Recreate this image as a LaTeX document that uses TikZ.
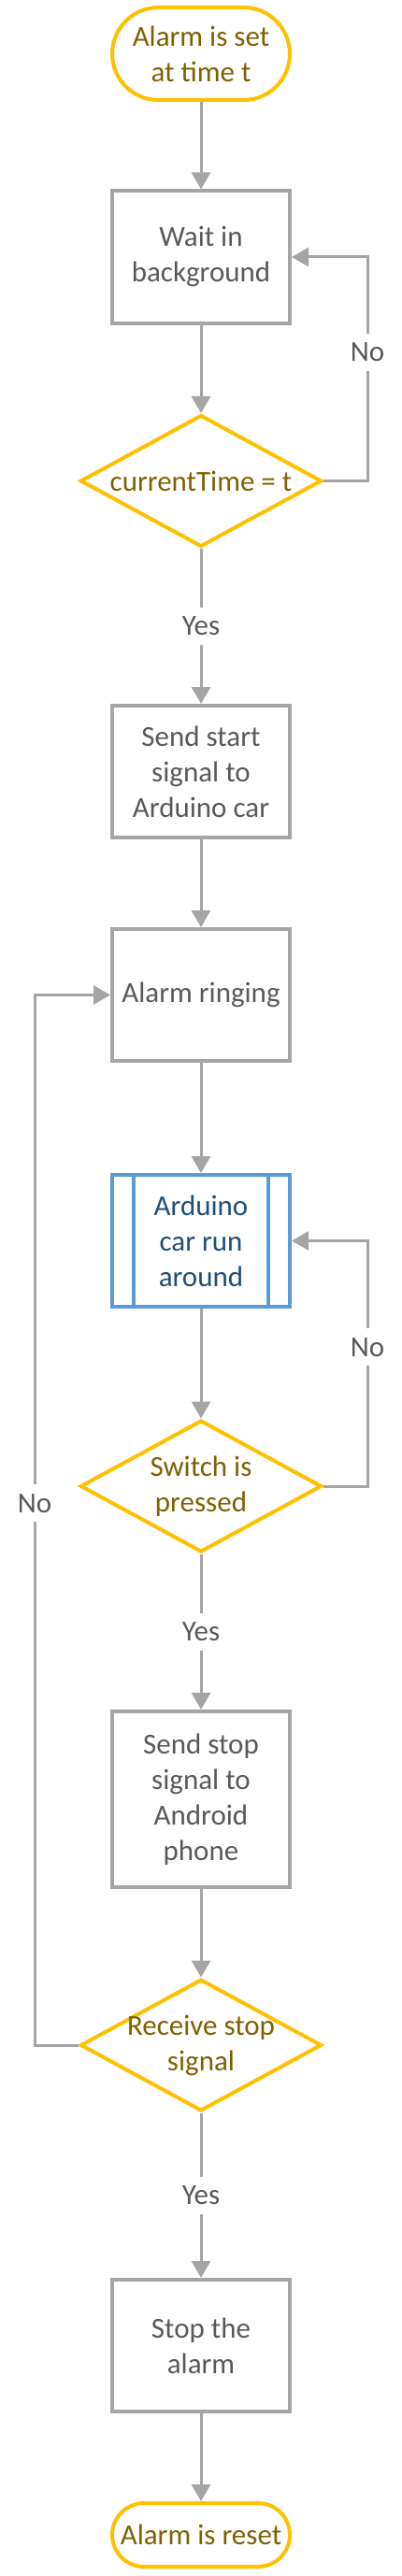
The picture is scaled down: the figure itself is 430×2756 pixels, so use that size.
\documentclass[tikz,border=0pt]{standalone}
\usepackage{fontspec}
\setmainfont{Carlito}
\usetikzlibrary{shapes.geometric,arrows.meta}
\definecolor{flowgray}{HTML}{A5A5A5}
\definecolor{flowgold}{HTML}{FFC000}
\definecolor{flowblue}{HTML}{5B9BD5}
\definecolor{textgray}{HTML}{595959}
\definecolor{textgold}{HTML}{7F6000}
\definecolor{textblue}{HTML}{1F4E79}

\begin{document}
\begin{tikzpicture}[x=1pt,y=-1pt,
  every node/.style={font=\fontsize{31}{38}\selectfont, align=center},
  terminal/.style={rectangle, draw=flowgold, line width=4pt, text=textgold, minimum width=190pt, inner sep=0pt},
  process/.style={rectangle, draw=flowgray, line width=4pt, text=textgray, minimum width=190pt, minimum height=141pt, inner sep=0pt},
  subproc/.style={process, draw=flowblue, text=textblue,
    path picture={\draw[flowblue, line width=4pt]
      ([xshift=23pt]path picture bounding box.north west) -- ([xshift=23pt]path picture bounding box.south west)
      ([xshift=-23pt]path picture bounding box.north east) -- ([xshift=-23pt]path picture bounding box.south east);}},
  decision/.style={diamond, draw=flowgold, line width=4pt, text=textgold, minimum width=258pt, minimum height=141pt, inner xsep=-60pt, inner ysep=-30pt},
  flow/.style={draw=flowgray, line width=3pt, -{Triangle[length=18pt,width=20pt]}},
  answer/.style={fill=white, text=textgray, inner sep=2pt, minimum height=40pt}
]
\useasboundingbox (0,0) rectangle (430,2756);
\node[terminal, minimum height=99pt, rounded corners=49.5pt] (start) at (215,57.5) {Alarm is set\\at time t};
\node[process] (wait) at (215,275) {Wait in\\background};
\node[decision] (check) at (215,514.5) {currentTime = t};
\node[process] (sendstart) at (215,825.5) {Send start\\signal to\\Arduino car};
\node[process] (ring) at (215,1064.5) {Alarm ringing};
\node[subproc] (car) at (215,1327.5) {Arduino\\car run\\around};
\node[decision] (switch) at (215,1590) {Switch is\\pressed};
\node[process, minimum height=188pt] (sendstop) at (215,1925) {Send stop\\signal to\\Android\\phone};
\node[decision] (receive) at (215,2188) {Receive stop\\signal};
\node[process] (stop) at (215,2509.5) {Stop the\\alarm};
\node[terminal, minimum height=68pt, rounded corners=34pt] (reset) at (215,2712) {Alarm is reset};

\draw[flow] (start) -- (wait);
\draw[flow] (wait) -- (check);
\draw[flow] (check) -- node[answer] {Yes} (sendstart);
\draw[flow] (check.east) -- ++(47,0) |- node[answer, pos=0.287] {No} (wait.east);
\draw[flow] (sendstart) -- (ring);
\draw[flow] (ring) -- (car);
\draw[flow] (car) -- (switch);
\draw[flow] (switch.east) -- ++(47,0) |- node[answer, pos=0.283] {No} (car.east);
\draw[flow] (switch) -- node[answer] {Yes} (sendstop);
\draw[flow] (sendstop) -- (receive);
\draw[flow] (receive.west) -- ++(-47,0) |- node[answer, pos=0.258] {No} (ring.west);
\draw[flow] (receive) -- node[answer] {Yes} (stop);
\draw[flow] (stop) -- (reset);
\end{tikzpicture}
\end{document}
